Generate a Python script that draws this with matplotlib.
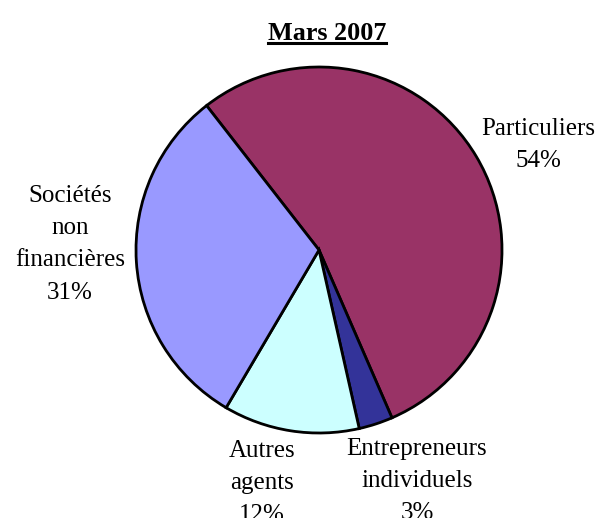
import matplotlib
matplotlib.use('Agg')
import matplotlib.pyplot as plt
from matplotlib.lines import Line2D

# share of each holder group, March 2007
labels = ['Particuliers', 'Entrepreneurs\nindividuels', 'Autres\nagents', 'Sociétés\nnon\nfinancières']
shares = [54, 3, 12, 31]
colors = ['#993366', '#333399', '#CCFFFF', '#9999FF']

plt.rcParams['font.family'] = ['Liberation Serif', 'DejaVu Serif']

fig = plt.figure(figsize=(5.97, 5.18), dpi=100)
ax = fig.add_axes([0, 0, 1, 1])

ax.pie(shares, colors=colors, startangle=127.9, counterclock=False,
       center=(319, 268), radius=183,
       wedgeprops=dict(edgecolor='black', linewidth=2))
# pie() resets the limits, so put pixel-sized ones back afterwards
ax.set_xlim(0, 597)
ax.set_ylim(0, 518)
ax.set_aspect('equal')
ax.axis('off')

# label placement around the pie (top of each text block)
label_pos = [(538, 400), (417, 80), (262, 78), (70, 333)]
for lab, val, (x, y) in zip(labels, shares, label_pos):
    ax.text(x, y, f'{lab}\n{val}%', ha='center', va='top',
            fontsize=18, linespacing=1.6)

title = ax.text(327, 496, 'Mars 2007', ha='center', va='top',
                fontsize=18.8, fontweight='bold')

# underline the title
fig.canvas.draw()
bb = title.get_window_extent()
fig.add_artist(Line2D([bb.x0, bb.x1], [475, 475], transform=None,
                      color='black', linewidth=2.2))

fig.savefig('out.png', dpi=100)
